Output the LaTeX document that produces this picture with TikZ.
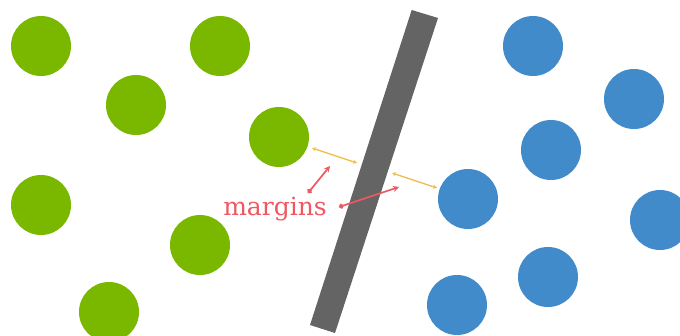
\documentclass[tikz,border=0pt]{standalone}
\usepackage{fontspec}
\newfontfamily\labfont{DejaVu Serif}
\usetikzlibrary{arrows.meta}
\definecolor{gr}{RGB}{122,184,0}
\definecolor{bl}{RGB}{66,139,202}
\definecolor{bar}{RGB}{100,100,100}
\definecolor{rd}{RGB}{238,88,98}
\definecolor{yl}{RGB}{238,190,80}
\begin{document}
\begin{tikzpicture}[x=1pt,y=-1pt,
  gdot/.style={circle,fill=gr,minimum size=60pt,inner sep=0pt},
  bdot/.style={circle,fill=bl,minimum size=60pt,inner sep=0pt},
  marg/.style={yl,line width=1.4pt,{Stealth[length=4pt,width=4pt]}-{Stealth[length=4pt,width=4pt]}},
  ptr/.style={rd,line width=1.7pt,{Circle[length=5pt]}-{Stealth[length=6pt,width=6pt]}}]
\useasboundingbox (0,0) rectangle (680,336);
\fill[white] (0,0) rectangle (680,336);
% green
\node[gdot] (g1) at (41,46) {};
\node[gdot] (g2) at (220,46) {};
\node[gdot] (g3) at (136,105) {};
\node[gdot] (g4) at (279,137) {};
\node[gdot] (g5) at (41,205) {};
\node[gdot] (g6) at (200,245) {};
\node[gdot] (g7) at (109,312) {};
% blue
\node[bdot] (b1) at (533,46) {};
\node[bdot] (b2) at (634,99) {};
\node[bdot] (b3) at (551,150) {};
\node[bdot] (b4) at (468,199) {};
\node[bdot] (b5) at (660,220) {};
\node[bdot] (b6) at (548,277) {};
\node[bdot] (b7) at (457,305) {};
% separator bar
\fill[bar] (411.7,10) -- (438,18) -- (335,333) -- (310,325) -- cycle;
% margins
\coordinate (m1a) at (312,148);
\coordinate (m1b) at (357,163);
\coordinate (m2a) at (392,173);
\coordinate (m2b) at (437,188);
\draw[marg] (m1a) -- (m1b);
\draw[marg] (m2a) -- (m2b);
\node[text=rd,font=\labfont\fontsize{25}{25}\selectfont,anchor=base] (lab) at (275,216) {margins};
\coordinate (p1a) at (308,193);
\coordinate (p1b) at (330,166);
\coordinate (p2a) at (339,207);
\coordinate (p2b) at (399,187);
\draw[ptr] (p1a) -- (p1b);
\draw[ptr] (p2a) -- (p2b);
\end{tikzpicture}
\end{document}
